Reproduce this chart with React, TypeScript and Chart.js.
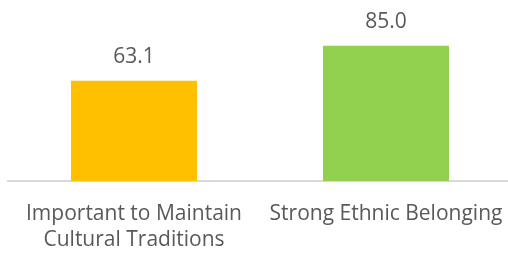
import React, { useEffect, useRef } from "react";
import { Chart, registerables } from "chart.js";

Chart.register(...registerables);

const categories: (string | string[])[] = [
  ["Important to Maintain", "Cultural Traditions"],
  "Strong Ethnic Belonging",
];
const values: number[] = [63.1, 85.0];
const barColors: string[] = ["#FFC000", "#92D050"];

const FONT = "'Open Sans', sans-serif";

const valueLabels = {
  id: "valueLabels",
  afterDatasetsDraw(chart: any) {
    const ctx = chart.ctx;
    const meta = chart.getDatasetMeta(0);
    ctx.save();
    ctx.fillStyle = "#595959";
    ctx.font = `21px ${FONT}`;
    ctx.textAlign = "center";
    ctx.textBaseline = "alphabetic";
    meta.data.forEach((bar: any, i: number) => {
      ctx.fillText(values[i].toFixed(1), bar.x, bar.y - 18);
    });
    ctx.restore();
  },
};

export default function App() {
  const ref = useRef<HTMLCanvasElement>(null);
  useEffect(() => {
    if (!ref.current) return;
    const chart = new Chart(ref.current, {
      type: "bar",
      data: {
        labels: categories,
        datasets: [
          {
            data: values,
            backgroundColor: barColors,
            barPercentage: 0.5,
            categoryPercentage: 1,
          },
        ],
      },
      options: {
        animation: false,
        responsive: false,
        maintainAspectRatio: false,
        layout: { padding: { top: 22, left: 8, right: 0, bottom: 0 } },
        plugins: { legend: { display: false }, tooltip: { enabled: false } },
        scales: {
          y: { display: false, min: 0, max: 100 },
          x: {
            afterFit: (s: any) => {
              s.height = 72;
              s.paddingLeft = 0;
              s.paddingRight = 0;
            },
            grid: { display: false, drawTicks: false },
            border: { color: "#D9D9D9", width: 2 },
            ticks: {
              color: "#595959",
              font: { family: FONT, size: 21, lineHeight: 1.25 },
              padding: 20,
              maxRotation: 0,
              autoSkip: false,
            },
          },
        },
      },
      plugins: [valueLabels],
    });
    return () => chart.destroy();
  }, []);
  return (
    <div
      style={{
        position: "fixed",
        left: 0,
        top: 0,
        width: 508,
        height: 253,
        overflow: "hidden",
        background: "#fff",
      }}
    >
      <canvas ref={ref} width={512} height={253} style={{ display: "block" }} />
    </div>
  );
}
